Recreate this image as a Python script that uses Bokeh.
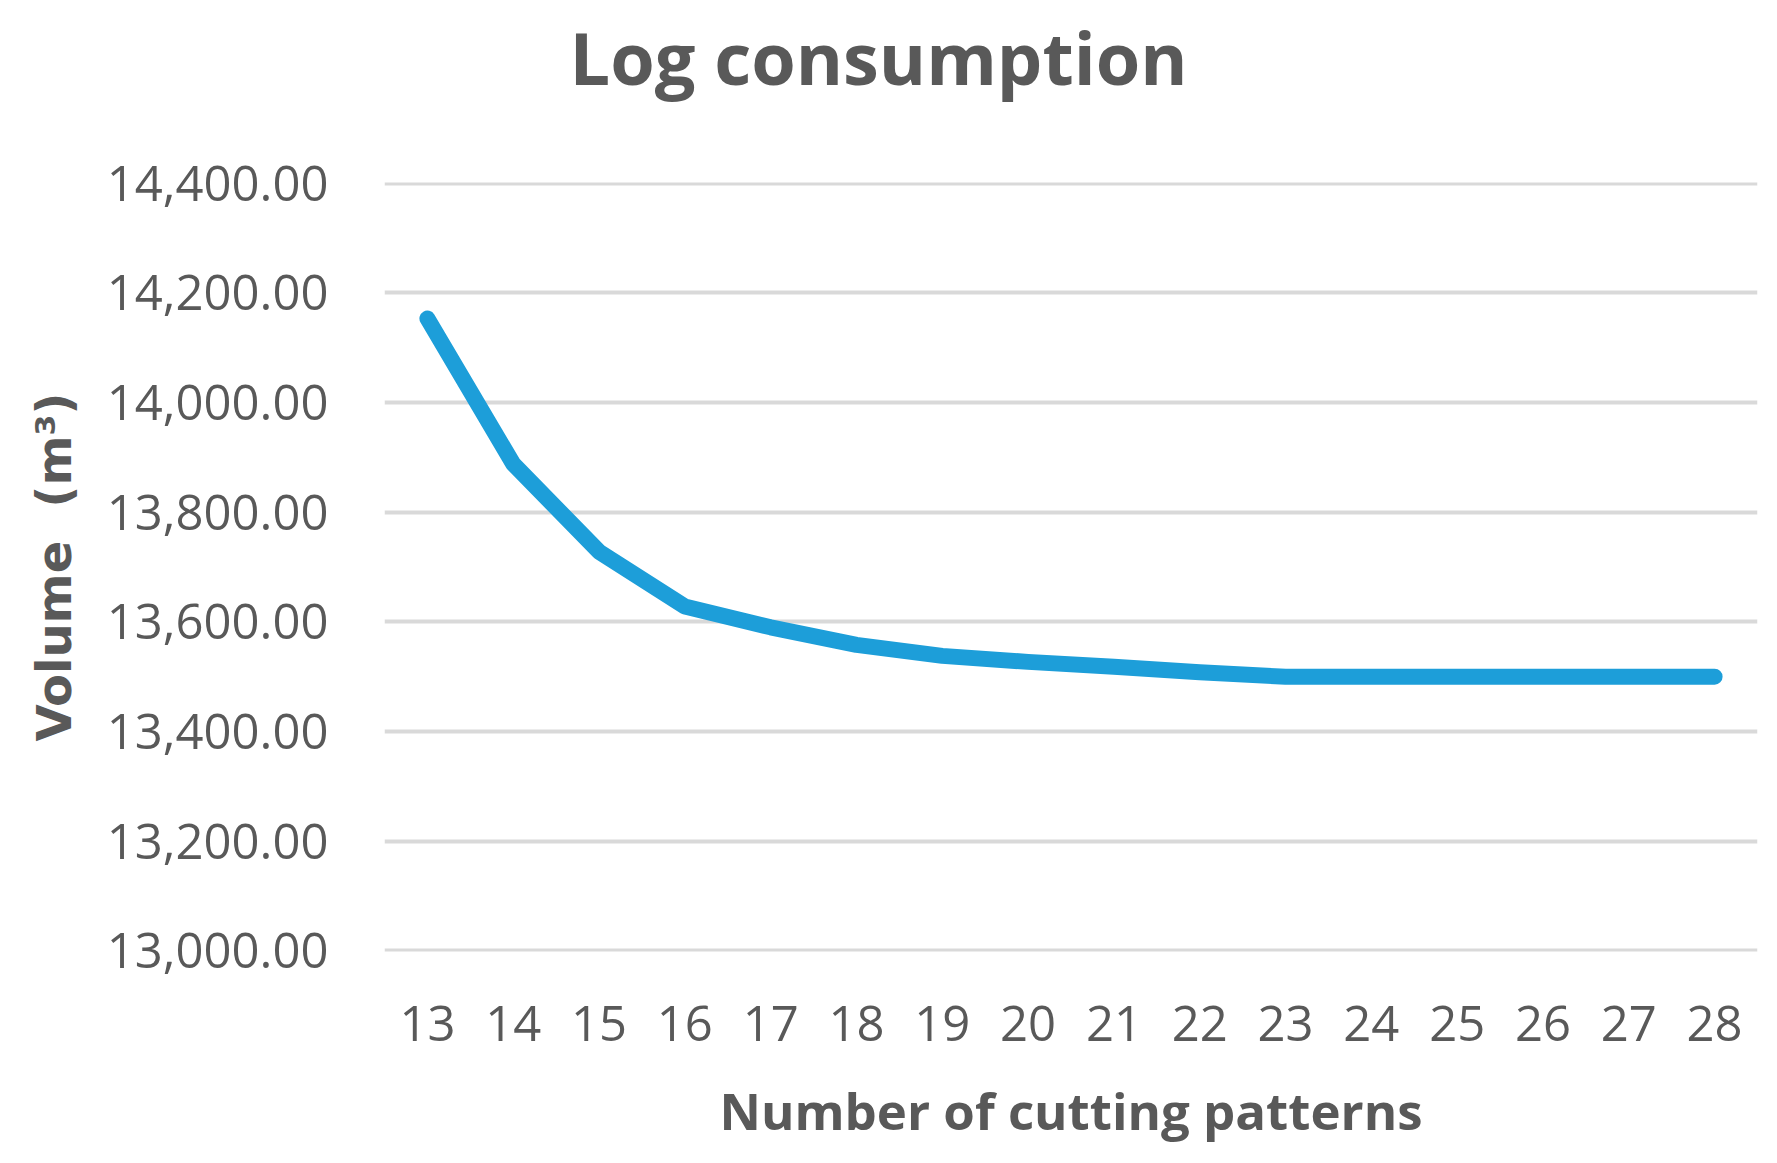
from bokeh.plotting import figure
from bokeh.models import Range1d, FactorRange, NumeralTickFormatter, FixedTicker, Title
from bokeh.embed import file_html
from bokeh.resources import INLINE

categories = [str(n) for n in range(13, 29)]
volume = [14153, 13888, 13728, 13628, 13590, 13558, 13538, 13527,
          13518, 13508, 13500, 13500, 13500, 13500, 13500, 13500]
y_ticks = [13000, 13200, 13400, 13600, 13800, 14000, 14200, 14400]

title_text = "Log consumption"
x_title = "Number of cutting patterns"
y_title = "Volume\u00a0\u00a0(m³)"

TEXT = "#595959"

p = figure(width=1761, height=1147, output_backend="svg", toolbar_location=None,
           x_range=FactorRange(*categories, range_padding=0),
           y_range=Range1d(12999.0, 14401.0),
           min_border_left=384, min_border_right=4,
           min_border_top=182, min_border_bottom=195)
p.outline_line_color = None
p.background_fill_color = "white"
p.border_fill_color = "white"

p.line(categories, volume, line_color="#1D9ED9", line_width=16,
       line_cap="round", line_join="round")

# axes
p.yaxis.ticker = FixedTicker(ticks=y_ticks)
p.yaxis.formatter = NumeralTickFormatter(format="0,0.00")
for ax in (p.xaxis[0], p.yaxis[0]):
    ax.axis_line_color = None
    ax.major_tick_line_color = None
    ax.minor_tick_line_color = None
    ax.major_label_text_color = TEXT
    ax.major_label_text_font = "Open Sans"
    ax.major_label_text_font_size = "49px"
    ax.axis_label_text_color = TEXT
    ax.axis_label_text_font_style = "bold"

p.yaxis.major_label_standoff = 50
p.xaxis.major_label_standoff = 48

p.xaxis.axis_label = x_title
p.xaxis.axis_label_text_font = "Open Sans"
p.xaxis.axis_label_text_font_size = "51px"
p.xaxis.axis_label_standoff = 31

p.yaxis.axis_label = y_title
p.yaxis.axis_label_text_font = "DejaVu Sans"
p.yaxis.axis_label_text_font_size = "48px"
p.yaxis.axis_label_standoff = 22

p.xgrid.grid_line_color = None
p.ygrid.grid_line_color = "#D9D9D9"
p.ygrid.grid_line_width = 4

# blank spacer between the plot area and the title
spacer = Title(text=" ", standoff=70, text_font_size="1px", text_color="white")
p.add_layout(spacer, "above")

title = Title(text=title_text, align="left", offset=185,
              vertical_align="middle", standoff=5,
              text_font="Open Sans", text_font_style="bold",
              text_font_size="72px", text_color=TEXT)
p.add_layout(title, "above")

open("out.html", "w").write(file_html(p, INLINE))
